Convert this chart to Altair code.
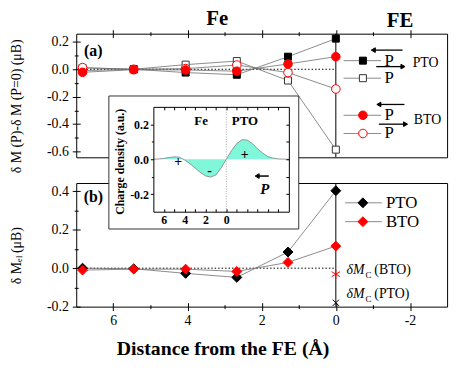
import altair as alt
import pandas as pd

FONT = "Liberation Serif"
GREY = "#6e6e6e"
RED = "#ff0000"

# ---------------- panel (a): dM(P) - dM(P=0) ----------------
dist = [6.83, 5.45, 4.05, 2.67, 1.29, 0.0]
pto_left = [-0.01, 0.0, -0.024, -0.04, 0.092, 0.224]     # filled square, P <-
pto_right = [0.01, 0.0, 0.034, 0.06, -0.082, -0.587]     # open square,  P ->
bto_left = [-0.022, -0.003, -0.005, -0.014, 0.039, 0.092]  # filled circle
bto_right = [0.012, 0.0, 0.005, 0.031, -0.024, -0.144]   # open circle

# ---------------- panel (b): dM_el ----------------
pto_el = [0.0, -0.003, -0.027, -0.048, 0.084, 0.403]
bto_el = [-0.01, -0.005, -0.005, -0.017, 0.03, 0.115]
mc_bto = [-0.031]
mc_pto = [-0.18]

# ---------------- inset: charge density ----------------
inset_x = [7, 6.5, 6, 5.5, 5, 4.5, 4, 3.5, 3, 2.5, 2, 1.5, 1, 0.5, 0,
           -0.5, -1, -1.5, -2, -2.5, -3, -3.5, -4, -4.5, -5, -5.5, -6]
inset_rho = [0, 0.002, 0.005, 0.01, 0.014, 0.012, -0.004, -0.025, -0.05, -0.075,
             -0.095, -0.102, -0.09, -0.05, 0.0, 0.05, 0.09, 0.112, 0.11, 0.09,
             0.06, 0.035, 0.015, 0.006, 0.002, 0.001, 0]

# axis extents / ticks
xa_domain = [7, -3]
ya_domain = [-0.643, 0.26]
yb_domain = [-0.2, 0.443]
xi_domain = [7, -6]
yi_domain = [-0.3, 0.3]
x_major = [6, 4, 2, 0, -2]
x_minor = [5, 3, 1, -1]
ya_major = [-0.6, -0.4, -0.2, 0.0, 0.2]
ya_minor = [-0.5, -0.3, -0.1, 0.1]
yb_major = [-0.2, 0.0, 0.2, 0.4]
yb_minor = [-0.1, 0.1, 0.3]
xi_labels = [6, 4, 2, 0]
xi_ticks = [6, 5, 4, 3, 2, 1, 0, -1, -2, -3, -4, -5]
yi_major = [-0.2, 0.0, 0.2]
yi_minor = [-0.1, 0.1]
yi_right = [-0.2, -0.1, 0.0, 0.1, 0.2]

# legend (a)
leg_a_y = [0.063, -0.065, -0.336, -0.469]
leg_a_x_line = [-0.21, -1.22]
leg_a_x_marker = -0.73
leg_a_x_p = -1.44
arrow_y = [0.14, 0.0195, -0.257, -0.401]
arrow_tail = [-1.80, -1.09, -1.85, -1.16]
arrow_head = [-1.01, -1.81, -1.16, -1.88]
arrow_dir = ["left", "right", "left", "right"]
group_names = ["PTO", "BTO"]
group_x = [-2.42, -2.47]
group_y = [0.043, -0.373]

# legend (b)
leg_b_names = ["PTO", "BTO"]
leg_b_y = [0.34, 0.242]
mc_names = ["(BTO)", "(PTO)"]
mc_label_y = [-0.012, -0.133]

MIN = "\u2212"
LBL1 = f"replace(format(datum.value, '.1f'), '{MIN}', '-')"
LBL0 = f"replace(format(datum.value, 'd'), '{MIN}', '-')"

SA_X = alt.Scale(domain=xa_domain, nice=False, zero=False)
SA_Y = alt.Scale(domain=ya_domain, range=[125, 0], nice=False, zero=False)
SB_X = alt.Scale(domain=xa_domain, nice=False, zero=False)
SB_Y = alt.Scale(domain=yb_domain, range=[276, 151], nice=False, zero=False)
SI_X = alt.Scale(domain=xi_domain, range=[78, 215], nice=False, zero=False)
SI_Y = alt.Scale(domain=yi_domain, range=[180, 74], nice=False, zero=False)


def ax(orient, z=0, **kw):
    d = dict(orient=orient, grid=False, zindex=z, domainColor="black", tickColor="black",
             labelColor="black", titleColor="black", labelFont=FONT, titleFont=FONT,
             domainWidth=1, tickWidth=1, title=None)
    d.update(kw)
    return alt.Axis(**d)


def frame(orient, offset=0, z=0):
    return ax(orient, z, offset=offset, ticks=False, labels=False)


def tick_axis(orient, values, size, offset, z=0):
    return ax(orient, z, values=values, tickSize=size, offset=offset, domain=False, labels=False)


def enc(chart, sx, sy, xaxis=None, yaxis=None, xf="x", yf="y"):
    return chart.encode(x=alt.X(f"{xf}:Q", scale=sx, axis=xaxis),
                        y=alt.Y(f"{yf}:Q", scale=sy, axis=yaxis))


def points(df, sx, sy, shape, fill, stroke, size, xaxis=None, yaxis=None):
    return enc(alt.Chart(df).mark_point(shape=shape, filled=True, fill=fill, stroke=stroke,
                                        strokeWidth=1, size=size, opacity=1),
               sx, sy, xaxis, yaxis)


def text(df, sx, sy, **kw):
    base = dict(font=FONT, color="black")
    base.update(kw)
    return enc(alt.Chart(df).mark_text(**base), sx, sy).encode(text="t:N")


# ======================= panel (a) =======================
series_a = {"pl": pto_left, "pr": pto_right, "bl": bto_left, "br": bto_right}
dfA = pd.concat([pd.DataFrame({"x": dist, "y": v, "s": k}) for k, v in series_a.items()])

a_lines = enc(alt.Chart(dfA).mark_line(color=GREY, strokeWidth=0.8), SA_X, SA_Y,
              ax("top", tickSize=4, values=x_major, labels=False),
              ax("left", values=ya_major, tickSize=4, labelFontSize=14, labelPadding=4,
                 labelExpr=LBL1, title="δ M (P)-δ M (P=0) (μB)", titleFontSize=14,
                 titleFontWeight="normal", titleX=-60, titleY=73, titleBaseline="middle",
                 titleAngle=270)).encode(detail="s:N")

a_zero = alt.Chart(pd.DataFrame({"x": [7.0], "x2": [0.0], "y": [0.0]})).mark_rule(
    color="black", strokeDash=[1.5, 2], strokeWidth=1).encode(
    x=alt.X("x:Q", scale=SA_X, axis=None), x2="x2:Q", y=alt.Y("y:Q", scale=SA_Y, axis=None))
a_vline = alt.Chart(pd.DataFrame({"x": [0.0], "y": [ya_domain[0]], "y2": [ya_domain[1]]})).mark_rule(
    color="black", strokeWidth=1).encode(
    x=alt.X("x:Q", scale=SA_X, axis=None), y=alt.Y("y:Q", scale=SA_Y, axis=None), y2="y2:Q")

m_pr = points(dfA[dfA.s == "pr"], SA_X, SA_Y, "square", "white", "#333333", 50,
              tick_axis("top", x_major, 4, -4), tick_axis("left", ya_major, 4, -4))
m_pl = points(dfA[dfA.s == "pl"], SA_X, SA_Y, "square", "black", "black", 50,
              tick_axis("top", x_minor, 4, -2), tick_axis("left", ya_minor, 4, -2))
m_br = points(dfA[dfA.s == "br"], SA_X, SA_Y, "circle", "white", RED, 75,
              frame("bottom", -151), frame("right"))
m_bl = points(dfA[dfA.s == "bl"], SA_X, SA_Y, "circle", RED, RED, 75)

# legend of (a)
leg_kinds = ["pl", "pr", "bl", "br"]
dfLegA = pd.DataFrame({"x": leg_a_x_line[0], "x2": leg_a_x_line[1], "y": leg_a_y,
                       "xm": leg_a_x_marker, "xp": leg_a_x_p, "s": leg_kinds, "t": "P"})
leg_lines = alt.Chart(dfLegA).mark_rule(color="#8a8a8a", strokeWidth=1).encode(
    x=alt.X("x:Q", scale=SA_X, axis=None), x2="x2:Q", y=alt.Y("y:Q", scale=SA_Y, axis=None))
style = {"pl": ("square", "black", "black", 50), "pr": ("square", "white", "#333333", 50),
         "bl": ("circle", RED, RED, 75), "br": ("circle", "white", RED, 75)}
leg_marks = []
for k in leg_kinds:
    shp, fi, st, sz = style[k]
    sub = dfLegA[dfLegA.s == k][["xm", "y"]].rename(columns={"xm": "x"})
    leg_marks.append(points(sub, SA_X, SA_Y, shp, fi, st, sz))
leg_p = text(dfLegA[["xp", "y", "t"]].rename(columns={"xp": "x"}), SA_X, SA_Y,
             fontSize=17, align="center", baseline="middle")

dfArr = pd.DataFrame({"x": arrow_tail, "x2": arrow_head, "y": arrow_y, "d": arrow_dir})
arr_shaft = alt.Chart(dfArr).mark_rule(color="black", strokeWidth=1.3).encode(
    x=alt.X("x:Q", scale=SA_X, axis=None), x2="x2:Q", y=alt.Y("y:Q", scale=SA_Y, axis=None))
arr_l = points(dfArr[dfArr.d == "left"][["x2", "y"]].rename(columns={"x2": "x"}),
               SA_X, SA_Y, "triangle-left", "black", "black", 22)
arr_r = points(dfArr[dfArr.d == "right"][["x2", "y"]].rename(columns={"x2": "x"}),
               SA_X, SA_Y, "triangle-right", "black", "black", 22)
grp = text(pd.DataFrame({"x": group_x, "y": group_y, "t": group_names}), SA_X, SA_Y,
           fontSize=14, align="center", baseline="middle")
lab_a = text(pd.DataFrame({"x": [6.54], "y": [0.135], "t": ["(a)"]}), SA_X, SA_Y,
             fontSize=16, fontWeight="bold", align="center", baseline="middle")
heads = text(pd.DataFrame({"x": [3.2, -1.73], "y": [0.368, 0.354], "t": ["Fe", "FE"]}),
             SA_X, SA_Y, fontSize=21, fontWeight="bold", align="center", baseline="middle")

panelA = alt.layer(a_zero, a_lines, a_vline, m_pr, m_pl, m_br, m_bl, leg_lines, *leg_marks,
                   leg_p, arr_shaft, arr_l, arr_r, grp, lab_a, heads).resolve_axis(
    x="independent", y="independent")

# ======================= panel (b) =======================
dfB = pd.concat([pd.DataFrame({"x": dist, "y": pto_el, "s": "PTO"}),
                 pd.DataFrame({"x": dist, "y": bto_el, "s": "BTO"})])
b_zero = alt.Chart(pd.DataFrame({"x": [7.0], "x2": [0.0], "y": [0.0]})).mark_rule(
    color="black", strokeDash=[1.5, 2], strokeWidth=1).encode(
    x=alt.X("x:Q", scale=SB_X, axis=None), x2="x2:Q", y=alt.Y("y:Q", scale=SB_Y, axis=None))
b_vline = alt.Chart(pd.DataFrame({"x": [0.0], "y": [yb_domain[0]], "y2": [yb_domain[1]]})).mark_rule(
    color="black", strokeWidth=1).encode(
    x=alt.X("x:Q", scale=SB_X, axis=None), y=alt.Y("y:Q", scale=SB_Y, axis=None), y2="y2:Q")
b_lines = enc(alt.Chart(dfB).mark_line(color=GREY, strokeWidth=0.8), SB_X, SB_Y,
              ax("bottom", values=x_major, tickSize=4, labelFontSize=14, labelPadding=3,
                 labelExpr=LBL0, title="Distance from the FE (Å)", titleFontSize=20,
                 titleFontWeight="bold", titleX=148, titleY=42, titleBaseline="middle"),
              ax("left", values=yb_major, tickSize=4, labelFontSize=14, labelPadding=4,
                 labelExpr=LBL1, title="δ Mₑₗ (μB)", titleFontSize=14,
                 titleFontWeight="normal", titleX=-60, titleY=224, titleBaseline="middle",
                 titleAngle=270)).encode(detail="s:N")
b_pto = points(dfB[dfB.s == "PTO"], SB_X, SB_Y, "diamond", "black", "black", 100,
               tick_axis("bottom", x_major, 4, -4), tick_axis("left", yb_major, 4, -4))
b_bto = points(dfB[dfB.s == "BTO"], SB_X, SB_Y, "diamond", RED, RED, 100,
               tick_axis("bottom", x_minor, 4, -2), tick_axis("left", yb_minor, 4, -2))
b_mcb = enc(alt.Chart(pd.DataFrame({"x": [0.0], "y": mc_bto})).mark_point(
    shape="M-1,-0.6L1,0.6M-1,0.6L1,-0.6M0,-1.15L0,1.15", stroke=RED, strokeWidth=1,
    size=70, opacity=1), SB_X, SB_Y)
b_mcp = enc(alt.Chart(pd.DataFrame({"x": [0.0], "y": mc_pto})).mark_point(
    shape="M-1,-1L1,1M-1,1L1,-1", stroke="black", strokeWidth=1, size=40, opacity=1),
    SB_X, SB_Y)

dfLegB = pd.DataFrame({"x": -0.25, "x2": -1.24, "xm": -0.73, "xt": -1.35,
                       "y": leg_b_y, "t": leg_b_names})
b_leg_lines = alt.Chart(dfLegB).mark_rule(color="#8a8a8a", strokeWidth=1).encode(
    x=alt.X("x:Q", scale=SB_X, axis=None), x2="x2:Q", y=alt.Y("y:Q", scale=SB_Y, axis=None))
b_leg_p = points(dfLegB[dfLegB.t == "PTO"][["xm", "y"]].rename(columns={"xm": "x"}),
                 SB_X, SB_Y, "diamond", "black", "black", 100,
                 frame("top", -151), frame("right"))
b_leg_b = points(dfLegB[dfLegB.t == "BTO"][["xm", "y"]].rename(columns={"xm": "x"}),
                 SB_X, SB_Y, "diamond", RED, RED, 100)
b_leg_t = text(dfLegB[["xt", "y", "t"]].rename(columns={"xt": "x"}), SB_X, SB_Y,
               fontSize=17, align="left", baseline="middle")

dfMC = pd.DataFrame({"x": -0.29, "y": mc_label_y, "t": mc_names})
mc_d = text(dfMC.assign(t="δM"), SB_X, SB_Y, fontSize=14, fontStyle="italic",
            align="left", baseline="middle")
mc_c = text(dfMC.assign(t="C"), SB_X, SB_Y, fontSize=9, align="left",
            baseline="middle", dx=19, dy=5)
mc_t = text(dfMC, SB_X, SB_Y, fontSize=14, align="left", baseline="middle", dx=28)
lab_b = text(pd.DataFrame({"x": [6.54], "y": [0.37], "t": ["(b)"]}), SB_X, SB_Y,
             fontSize=16, fontWeight="bold", align="center", baseline="middle")

panelB = alt.layer(b_zero, b_lines, b_vline, b_pto, b_bto, b_mcb, b_mcp, b_leg_lines,
                   b_leg_p, b_leg_b, b_leg_t, mc_d, mc_c, mc_t, lab_b).resolve_axis(
    x="independent", y="independent")

# ======================= inset =======================
dfI = pd.DataFrame({"x": inset_x, "y": inset_rho})
box = alt.Chart(pd.DataFrame({"a": [0]})).mark_rect(
    fill="white", stroke="#333333", strokeWidth=1).encode(
    x=alt.value(33), x2=alt.value(225), y=alt.value(63), y2=alt.value(197.5))
i_zero = alt.Chart(pd.DataFrame({"x": [0.0], "y": [yi_domain[0]], "y2": [yi_domain[1]]})).mark_rule(
    color="#aaaaaa", strokeDash=[1, 1.5], strokeWidth=1).encode(
    x=alt.X("x:Q", scale=SI_X, axis=None), y=alt.Y("y:Q", scale=SI_Y, axis=None), y2="y2:Q")
i_area = enc(alt.Chart(dfI).mark_area(color="#7ff7d8", opacity=1), SI_X, SI_Y,
             ax("bottom", 1, offset=-96, values=xi_labels, ticks=False, labelFontSize=12,
                labelFontWeight="bold", labelPadding=3, labelExpr=LBL0),
             ax("left", 1, offset=-78, values=yi_major, tickSize=3, labelFontSize=12,
                labelFontWeight="bold", labelPadding=2, labelExpr=LBL1,
                title="Charge density (a.u.)", titleFontSize=12, titleFontWeight="bold",
                titleX=-34, titleY=129, titleBaseline="middle", titleAngle=270)
             ).encode(y2=alt.Y2(datum=0))
i_line = enc(alt.Chart(dfI).mark_line(color="#808080", strokeWidth=0.8), SI_X, SI_Y,
             tick_axis("bottom", xi_ticks, 3, -99, 1), tick_axis("left", yi_minor, 2, -78, 1))
i_txt = text(pd.DataFrame({"x": [2.42, -1.78], "y": [0.22, 0.22], "t": ["Fe", "PTO"]}),
             SI_X, SI_Y, fontSize=13, fontWeight="bold", align="center", baseline="middle"
             ).encode(x=alt.X("x:Q", scale=SI_X, axis=frame("top", -74, 1)),
                      y=alt.Y("y:Q", scale=SI_Y, axis=frame("right", -160, 1)))
i_pm = text(pd.DataFrame({"x": [4.63, 1.6, -1.75], "y": [-0.014, -0.068, 0.025],
                          "t": ["+", "-", "+"]}),
            SI_X, SI_Y, fontSize=14, fontWeight="bold", align="center", baseline="middle"
            ).encode(x=alt.X("x:Q", scale=SI_X, axis=tick_axis("top", xi_ticks, 3, -77, 1)),
                     y=alt.Y("y:Q", scale=SI_Y, axis=tick_axis("right", yi_right, 3, -163, 1)))
dfIA = pd.DataFrame({"x": [-4.07], "x2": [-2.96], "y": [-0.096]})
i_arrow = alt.Chart(dfIA).mark_rule(color="black", strokeWidth=1.5).encode(
    x=alt.X("x:Q", scale=SI_X, axis=None), x2="x2:Q", y=alt.Y("y:Q", scale=SI_Y, axis=None))
i_head = points(dfIA[["x2", "y"]].rename(columns={"x2": "x"}), SI_X, SI_Y,
                "triangle-left", "black", "black", 22)
i_p = text(pd.DataFrame({"x": [-3.69], "y": [-0.17], "t": ["P"]}), SI_X, SI_Y,
           fontSize=15, fontWeight="bold", fontStyle="italic", align="center", baseline="middle")

inset = alt.layer(box, i_area, i_line, i_zero, i_txt, i_pm, i_arrow, i_head, i_p).resolve_axis(
    x="independent", y="independent")

chart = alt.layer(panelA, panelB, inset).resolve_scale(
    x="independent", y="independent").properties(
    width=375, height=276,
    padding={"left": 69, "top": 24, "right": 8, "bottom": 53},
    autosize=alt.AutoSizeParams(type="none"),
).configure_view(stroke=None)

chart.save("out.html", embed_options={"renderer": "svg", "actions": False})
